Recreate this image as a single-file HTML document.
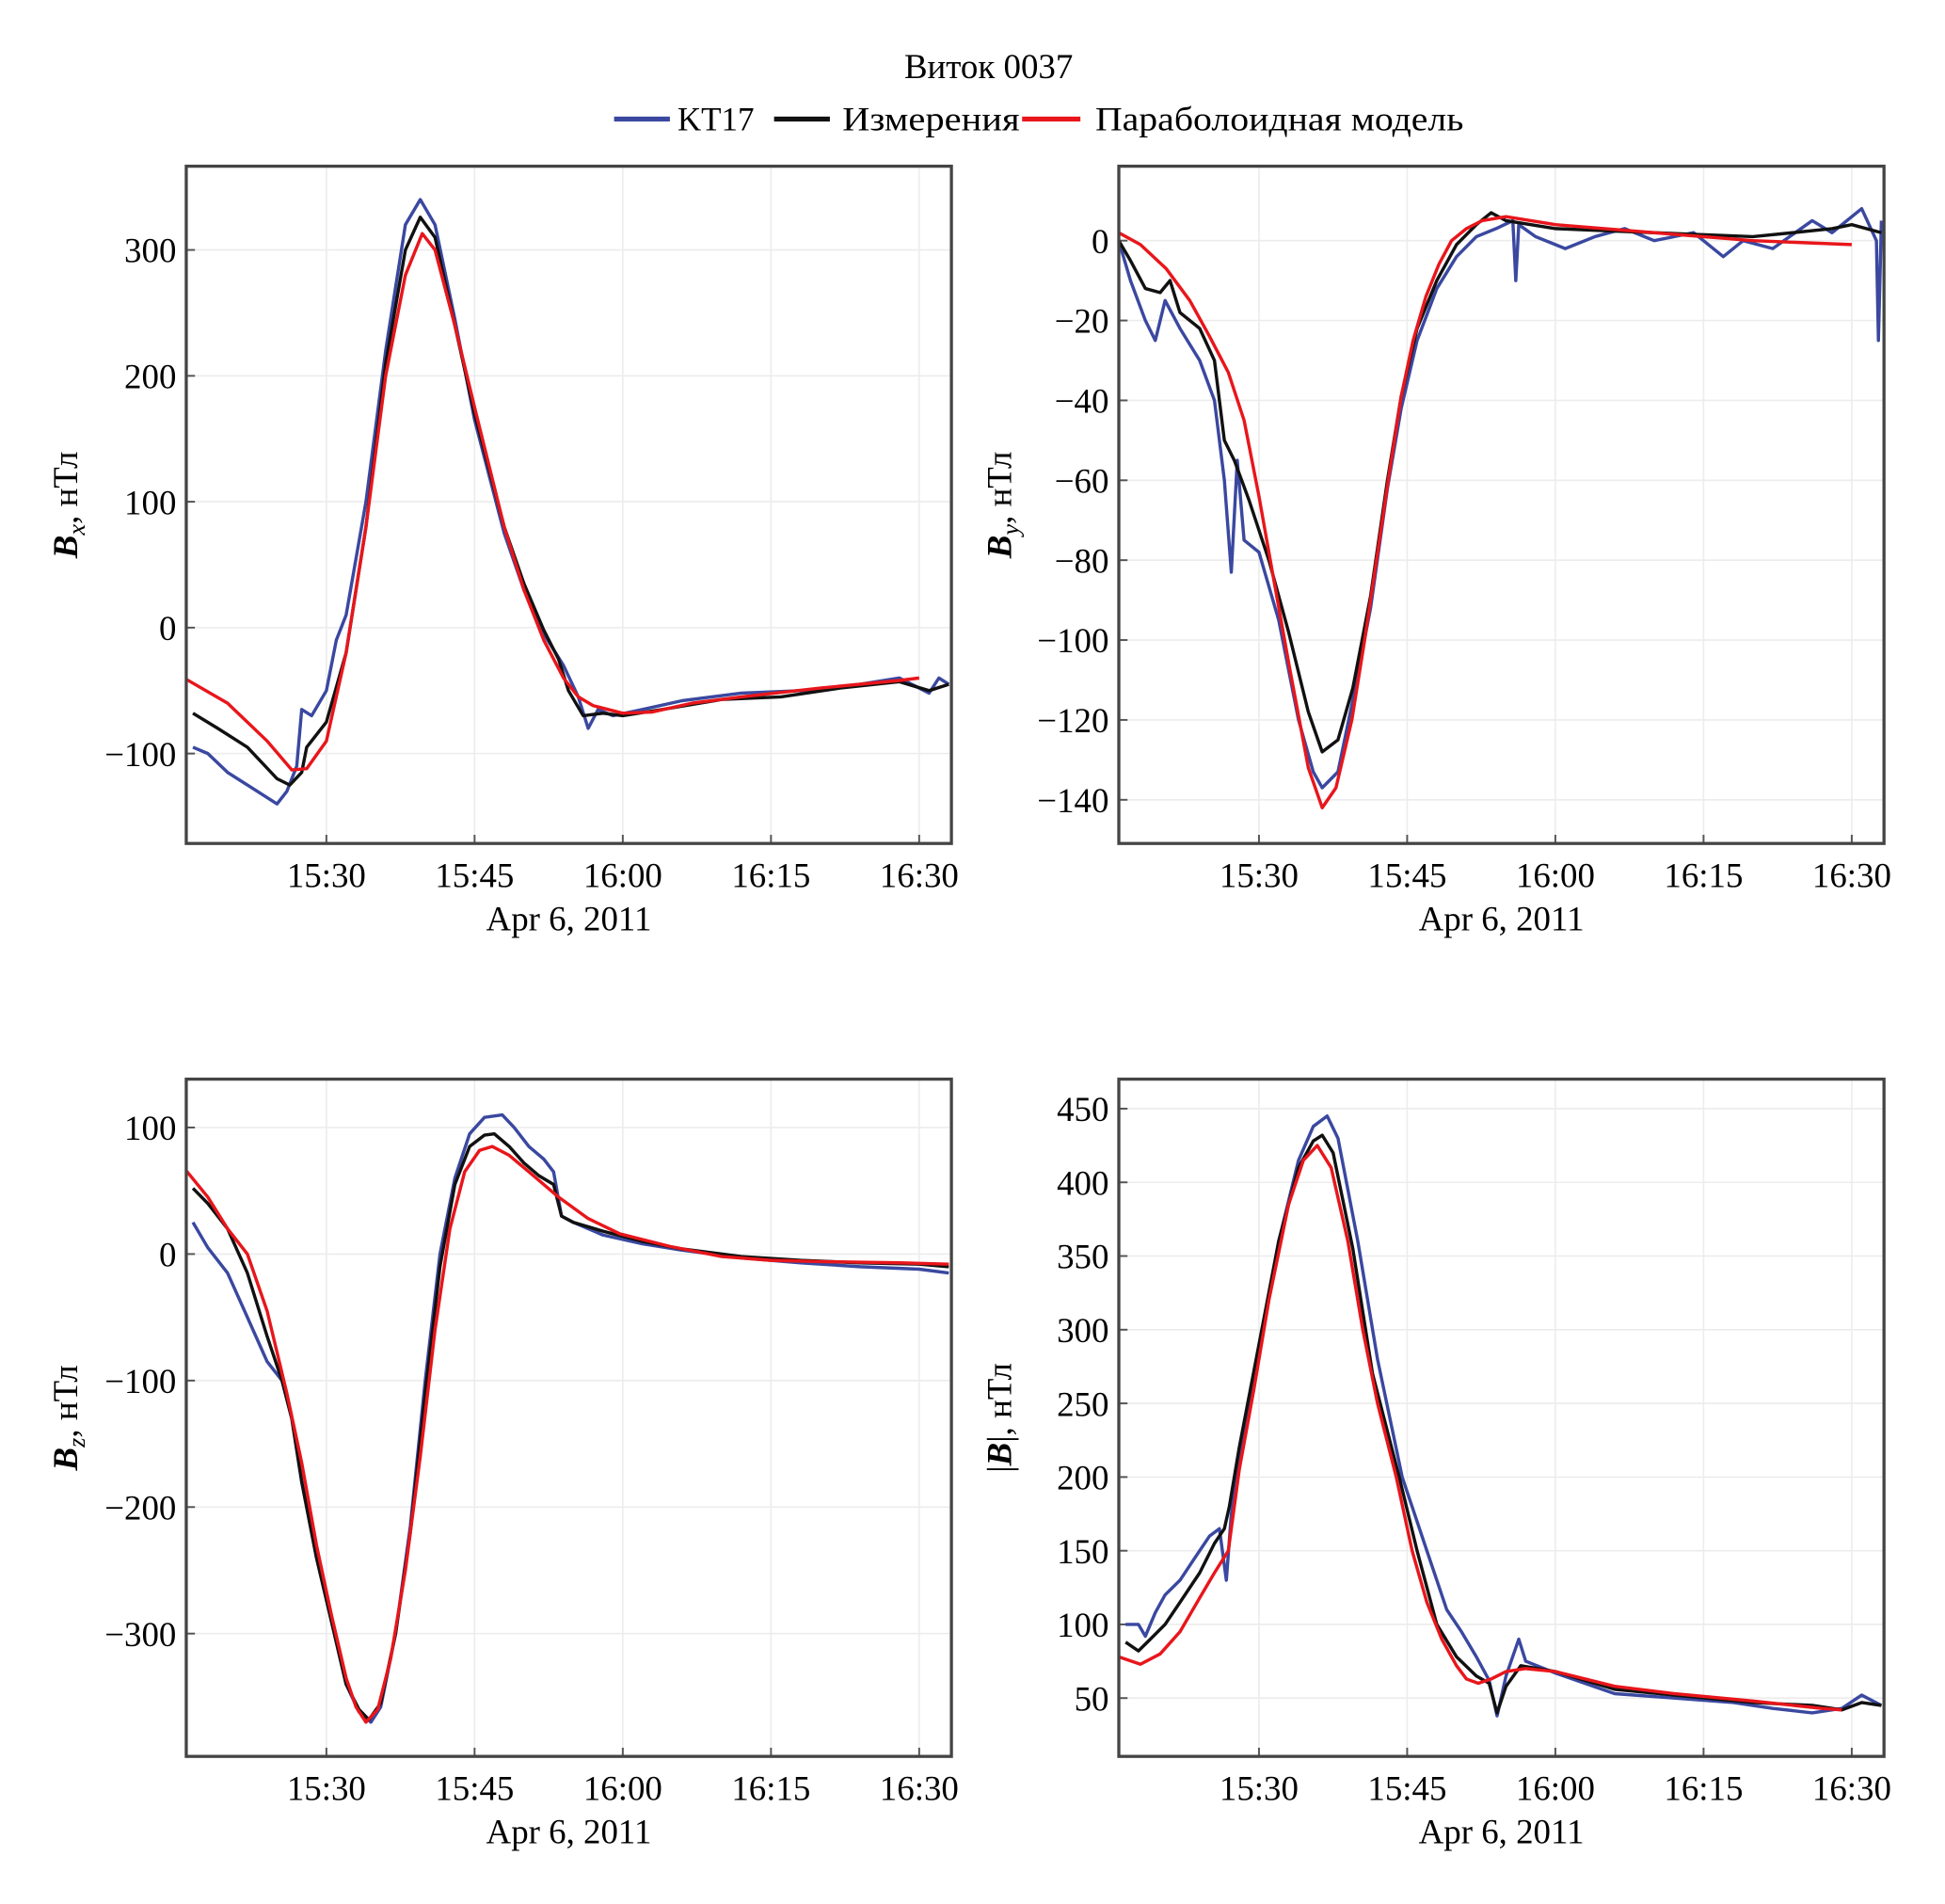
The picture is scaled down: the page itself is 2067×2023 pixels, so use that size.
<!DOCTYPE html>
<html><head><meta charset="utf-8">
<style>
html,body{margin:0;padding:0;background:#fff;}
svg{display:block;font-family:"Liberation Serif",serif;}
</style></head>
<body>
<svg id="fig" width="2067" height="2023" viewBox="0 0 1568 1535" xmlns="http://www.w3.org/2000/svg">
<text x="797" y="63" font-size="28" text-anchor="middle">Виток 0037</text>
<g font-size="27">
  <g><line x1="495" y1="96" x2="540" y2="96" stroke="#3a48a0" stroke-width="4"/><text x="546" y="105" textLength="62" lengthAdjust="spacingAndGlyphs">KT17</text></g>
  <g><line x1="624" y1="96" x2="669" y2="96" stroke="#111" stroke-width="4"/><text x="679" y="105" textLength="143" lengthAdjust="spacingAndGlyphs">Измерения</text></g>
  <g><line x1="824" y1="96" x2="871" y2="96" stroke="#e8161b" stroke-width="4"/><text x="883" y="105" textLength="297" lengthAdjust="spacingAndGlyphs">Параболоидная модель</text></g>
</g>
<g id="plots"></g>
</svg>
<script>
// ---- Data (time in minutes after 15:00) ----
const xTickLabels = ["15:30","15:45","16:00","16:15","16:30"];
const xTickMinutes = [30,45,60,75,90];

const bxTicks = [-100,0,100,200,300];
const bxRedT = [15.8,20,24,26.5,28,30,32,34,36,38,39.7,41,43,45,48,50,52,54,55.5,57,60,63,67,72,80,88,90];
const bxRedV = [-41,-60,-90,-113,-112,-90,-20,80,200,280,313,300,240,175,80,30,-10,-40,-55,-62,-68,-67,-60,-55,-48,-42,-40];
const bxBlackT = [16.5,19,22,25,26.3,27.5,28,30,32,34,36,38,39.5,41,43,45,48,50,52,53.5,54.5,56,58,60,64,70,76,82,88,91,93];
const bxBlackV = [-68,-80,-95,-120,-125,-115,-95,-75,-20,80,210,300,326,310,240,170,80,35,-2,-25,-50,-70,-68,-70,-65,-57,-55,-48,-43,-50,-45];
const bxBlueT = [16.5,18,20,22,24,25,26,27,27.5,28.5,30,31,32,34,36,38,39.5,41,43,45,48,50,52,54,55.5,56.5,57.5,59,62,66,72,78,84,88,91,92,93];
const bxBlueV = [-95,-100,-115,-125,-135,-140,-130,-110,-65,-70,-50,-10,10,100,220,320,340,320,245,165,75,30,-5,-30,-55,-80,-65,-70,-65,-58,-52,-50,-45,-40,-52,-40,-45];

const byTicks = [-140,-120,-100,-80,-60,-40,-20,0];
const byRedT = [15.8,18,20.6,23,25,26.9,28.5,30,31.5,33.1,35,36.4,37.8,39.4,40.7,41.9,43.2,44.4,45.6,46.9,48.2,49.5,51,52.6,55,60,70,80,90];
const byRedV = [2,-1,-7,-15,-24,-33,-45,-64,-85,-107,-132,-142,-137,-120,-100,-80,-58,-39,-25,-14,-6,0,3,5,6,4,2,0,-1];
const byBlackT = [15.8,17,18.5,20,21,22,24,25.5,26.5,27.5,29,31,33,35,36.4,38,39.5,41.3,43,44.4,46,48,50,52,53.5,55,60,70,80,84,88,90,93];
const byBlackV = [0,-5,-12,-13,-10,-18,-22,-30,-50,-55,-65,-80,-98,-118,-128,-125,-112,-89,-60,-39,-22,-10,-1,4,7,5,3,2,1,2,3,4,2];
const byBlueT = [15.8,17,18.5,19.5,20.5,22,24,25.5,26.5,27.2,27.8,28.5,30,32,34,35.5,36.4,38,39.5,41.3,43,44.4,46,48,50,52,54,55.7,56,56.3,58,61,64,67,70,74,77,79,82,86,88,91,92.5,92.7,93];
const byBlueV = [0,-10,-20,-25,-15,-22,-30,-40,-60,-83,-55,-75,-78,-95,-120,-133,-137,-133,-115,-92,-62,-42,-25,-12,-4,1,3,5,-10,4,1,-2,1,3,0,2,-4,0,-2,5,2,8,0,-25,5];

const bzTicks = [-300,-200,-100,0,100];
const bzRedT = [15.8,18,20,22,24,26,27.5,29,30.5,32,33,34,35.2,36.5,38,39.5,41,42.5,44,45.5,46.8,48.5,50.5,53.5,56.5,59.7,64.8,70,75,80,88,93];
const bzRedV = [66,45,20,0,-45,-110,-165,-230,-285,-335,-358,-370,-360,-320,-250,-160,-60,20,65,82,85,78,65,45,28,16,6,-2,-5,-6,-7,-8];
const bzBlackT = [16.5,18,20,22,24,25.5,26.5,27.5,29,30.5,32,33.3,34.3,35.5,37,38.5,40,41.5,43,44.5,46,47,48.5,50,51.5,53,53.8,55,58,62,66,72,78,84,90,93];
const bzBlackV = [52,40,20,-15,-65,-100,-130,-180,-240,-290,-340,-360,-368,-355,-300,-220,-110,-10,55,85,94,95,85,72,62,55,30,25,18,10,4,-2,-5,-7,-8,-10];
const bzBlueT = [16.5,18,20,22,24,25.5,26.5,27.5,29,30.5,32,33.3,34.5,35.5,37,38.5,40,41.5,43,44.5,46,47.8,49,50.5,52,53,53.8,55,58,62,66,72,78,84,90,93];
const bzBlueV = [25,5,-15,-50,-85,-100,-130,-180,-240,-290,-340,-362,-370,-358,-300,-215,-100,0,60,95,108,110,100,85,75,65,30,25,15,8,3,-3,-7,-10,-12,-15];

const bmTicks = [50,100,150,200,250,300,350,400,450];
const bmRedT = [15.8,18,20,22,24,25.5,26.9,28,29.5,31,33,34.5,35.9,37.3,39,40.5,42,43.9,45.5,47,48.5,50,51,52.2,53.5,55,57,60,66,72,80,87,89];
const bmRedV = [78,73,80,95,118,135,150,205,260,320,385,415,425,410,360,300,250,200,150,115,90,72,63,60,63,68,70,68,58,53,48,43,42];
const bmBlackT = [16.5,17.8,19,20.5,22,24,25.5,26.5,27,28,30,32,34,35.5,36.4,37.5,39.5,41.5,44.2,46,48,50,52,53.3,54.1,55,56.5,60,66,72,80,86,89,91,93];
const bmBlackV = [88,82,90,100,115,135,155,165,180,220,290,360,410,428,432,420,355,270,200,150,100,78,65,60,40,58,72,68,56,52,47,45,42,47,45];
const bmBlueT = [16.5,17.8,18.5,19.5,20.5,22,23.5,25,26,26.7,27.2,28,30,32,34,35.5,36.9,38,40,42,44.5,47,49,50.5,52,53.3,54.1,55,56.3,57,60,66,72,78,82,86,89,91,93];
const bmBlueV = [100,100,92,108,120,130,145,160,165,130,175,210,285,360,415,438,445,430,360,280,200,150,110,95,78,62,38,65,90,75,67,53,50,47,43,40,43,52,45];

const panels = [
 {name:"bx", x0:150, x1:767, y0:134, y1:680, ref:[0,506], ppu:1.015, ticks:bxTicks, label:["B","x"], lx:62,
  series:[[bxBlueT,bxBlueV,"#3a48a0"],[bxBlackT,bxBlackV,"#111"],[bxRedT,bxRedV,"#e8161b"]]},
 {name:"by", x0:902, x1:1519, y0:134, y1:680, ref:[0,194], ppu:3.22, ticks:byTicks, label:["B","y"], lx:815,
  series:[[byBlueT,byBlueV,"#3a48a0"],[byBlackT,byBlackV,"#111"],[byRedT,byRedV,"#e8161b"]]},
 {name:"bz", x0:150, x1:767, y0:870, y1:1416, ref:[0,1011], ppu:1.02, ticks:bzTicks, label:["B","z"], lx:62,
  series:[[bzBlueT,bzBlueV,"#3a48a0"],[bzBlackT,bzBlackV,"#111"],[bzRedT,bzRedV,"#e8161b"]]},
 {name:"bmag", x0:902, x1:1519, y0:870, y1:1416, ref:[50,1369], ppu:1.188, ticks:bmTicks, label:["|B|",""], lx:815,
  series:[[bmBlueT,bmBlueV,"#3a48a0"],[bmBlackT,bmBlackV,"#111"],[bmRedT,bmRedV,"#e8161b"]]}
];
const NS="http://www.w3.org/2000/svg";
const root=document.getElementById("plots");
function mk(tag,attrs,parent){const e=document.createElementNS(NS,tag);for(const k in attrs)e.setAttribute(k,attrs[k]);parent.appendChild(e);return e;}
panels.forEach(p=>{
  const g=mk("g",{},root);
  
  
  const xs=t=>p.x0+113+(t-30)*119.5/15;
  const ys=v=>p.ref[1]-(v-p.ref[0])*p.ppu;
  xTickMinutes.forEach((m,i)=>{
    const x=xs(m);
    const gl=mk("line",{x1:x,x2:x,y1:p.y0,y2:p.y1,stroke:"#ececec","stroke-width":1.2},g);
    
    
    mk("line",{x1:x,x2:x,y1:p.y1,y2:p.y1-7,stroke:"#555","stroke-width":1.5},g);
    const tl=mk("text",{x:x,y:p.y1+35,"font-size":28,"text-anchor":"middle"},g);
    tl.textContent=xTickLabels[i];
    
    
  });
  p.ticks.forEach(v=>{
    const y=ys(v);
    const gl=mk("line",{x1:p.x0,x2:p.x1,y1:y,y2:y,stroke:"#ececec","stroke-width":1.2},g);
    
    
    mk("line",{x1:p.x0,x2:p.x0+7,y1:y,y2:y,stroke:"#555","stroke-width":1.5},g);
    const tl=mk("text",{x:p.x0-8,y:y+10,"font-size":28,"text-anchor":"end"},g);
    tl.textContent=(v<0?"\u2212"+(-v):String(v));
    
    
  });
  const xl=mk("text",{x:(p.x0+p.x1)/2,y:p.y1+70,"font-size":28,"text-anchor":"middle"},g);
  xl.textContent="Apr 6, 2011";
  
  
  const cy=(p.y0+p.y1)/2;
  const yl=mk("text",{transform:`translate(${p.lx},${cy}) rotate(-90)`,"font-size":28,"text-anchor":"middle"},g);
  
  
  if(p.label[1]){
    const b=mk("tspan",{"font-style":"italic","font-weight":"bold"},yl);b.textContent="B";
    const s=mk("tspan",{"font-style":"italic","font-size":20,dy:6},yl);s.textContent=p.label[1];
    const r=mk("tspan",{dy:-6},yl);r.textContent=", нТл";
  } else {
    const a=mk("tspan",{},yl);a.textContent="|";
    const b=mk("tspan",{"font-style":"italic","font-weight":"bold"},yl);b.textContent="B";
    const r=mk("tspan",{},yl);r.textContent="|, нТл";
  }
  p.series.forEach((s,i)=>{
    const d=s[0].map((t,k)=>(k?"L":"M")+xs(t).toFixed(1)+","+ys(s[1][k]).toFixed(1)).join(" ");
    const path=mk("path",{d:d,fill:"none",stroke:s[2],"stroke-width":2.6,"stroke-linejoin":"round"},g);
    
    
  });
  const box=mk("rect",{x:p.x0,y:p.y0,width:p.x1-p.x0,height:p.y1-p.y0,fill:"none",stroke:"#444","stroke-width":2.5},g);
  
  
});
</script>
</body></html>
